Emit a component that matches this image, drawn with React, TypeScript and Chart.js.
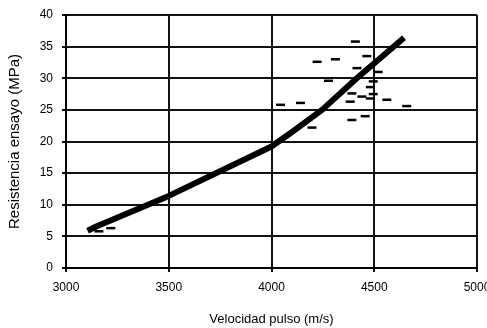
import React, { useEffect, useRef } from "react";
import { Chart, registerables } from "chart.js";

Chart.register(...registerables);

// Regression curve (velocity m/s, strength MPa)
const lineX = [3105, 3150, 3500, 4000, 4100, 4246, 4415, 4645];
const lineY = [5.9, 6.6, 11.4, 19.2, 21.5, 25.0, 30.0, 36.4];

// Measured points (dashes)
const scatterX = [3160, 3218, 4044, 4141, 4197, 4222, 4277, 4311, 4383, 4391, 4391, 4408, 4416, 4440, 4456, 4464, 4481, 4481, 4495, 4495, 4519, 4561, 4658];
const scatterY = [5.8, 6.3, 25.8, 26.1, 22.2, 32.6, 29.6, 33.0, 26.3, 27.6, 23.4, 35.8, 31.6, 27.1, 24.0, 33.5, 28.6, 26.8, 29.5, 27.5, 31.0, 26.6, 25.6];

const xTicks = [3000, 3500, 4000, 4500, 5000];
const yTicks = [0, 5, 10, 15, 20, 25, 30, 35, 40];

const xTitle = "Velocidad pulso (m/s)";
const yTitle = "Resistencia ensayo (MPa)";

export default function App() {
  const ref = useRef<HTMLCanvasElement>(null);
  useEffect(() => {
    if (!ref.current) return;
    const font = "'Liberation Sans', Arial, sans-serif";
    const chart = new Chart(ref.current, {
      type: "scatter",
      data: {
        datasets: [
          {
            type: "line",
            data: lineX.map((x, i) => ({ x, y: lineY[i] })),
            borderColor: "#000",
            borderWidth: 6,
            pointRadius: 0,
            tension: 0,
            borderCapStyle: "butt",
            borderJoinStyle: "round",
          } as any,
          {
            data: scatterX.map((x, i) => ({ x, y: scatterY[i] })),
            pointStyle: "line",
            pointRadius: 4.5,
            borderColor: "#000",
            backgroundColor: "#000",
            pointBorderWidth: 2.5,
            borderWidth: 2.5,
          } as any,
        ],
      },
      options: {
        animation: false,
        responsive: false,
        events: [],
        layout: { padding: { left: 0, right: 10, top: 15, bottom: 0 } },
        plugins: { legend: { display: false }, tooltip: { enabled: false } },
        scales: {
          x: {
            type: "linear",
            min: 3000,
            max: 5000,
            afterBuildTicks: (s: any) => {
              s.ticks = xTicks.map((v) => ({ value: v }));
            },
            afterFit: (s: any) => {
              s.height = 60;
              s.paddingLeft = 0;
              s.paddingRight = 0;
            },
            border: { display: true, color: "#000", width: 2 },
            grid: { color: "#111", lineWidth: 2, tickLength: 4, drawTicks: true },
            ticks: {
              color: "#000",
              font: { family: font, size: 12 },
              padding: 8,
              maxRotation: 0,
              callback: (v: any) => String(v),
            },
            title: {
              display: true,
              text: xTitle,
              color: "#000",
              font: { family: font, size: 13 },
              padding: { top: 4, bottom: 1 },
            },
          },
          y: {
            type: "linear",
            min: 0,
            max: 40,
            afterBuildTicks: (s: any) => {
              s.ticks = yTicks.map((v) => ({ value: v }));
            },
            afterFit: (s: any) => {
              s.width = 66;
              s.paddingTop = 0;
              s.paddingBottom = 0;
            },
            border: { display: true, color: "#000", width: 2 },
            grid: { color: "#111", lineWidth: 2, tickLength: 4 },
            ticks: {
              color: "#000",
              font: { family: font, size: 12 },
              padding: 9,
              callback: (v: any) => String(v),
            },
            title: {
              display: true,
              text: yTitle,
              color: "#000",
              font: { family: font, size: 15 },
              padding: { top: 6, bottom: 4 },
            },
          },
        },
      },
    });
    return () => chart.destroy();
  }, []);
  return (
    <div style={{ position: "absolute", left: 0, top: 0, width: 487, height: 328, background: "#fff" }}>
      <canvas ref={ref} width={487} height={328} style={{ width: 487, height: 328, display: "block" }} />
    </div>
  );
}
